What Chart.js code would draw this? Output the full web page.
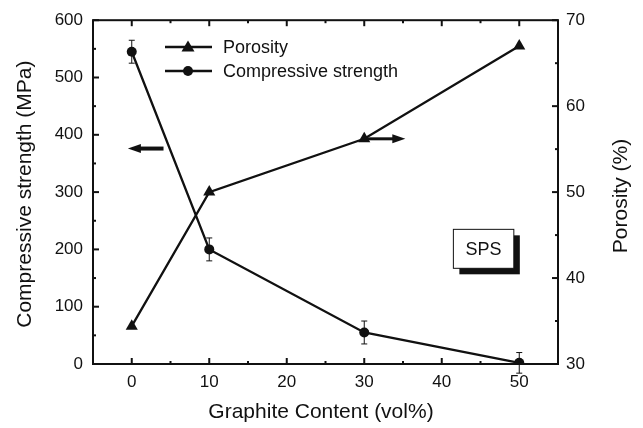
<!DOCTYPE html>
<html>
<head>
<meta charset="utf-8">
<script src="https://cdn.jsdelivr.net/npm/chart.js@4"></script>
<style>
  html, body { margin: 0; padding: 0; background: #fff; }
  #wrap { width: 643px; height: 428px; }
</style>
</head>
<body>
<div id="wrap"><canvas id="chart" width="643" height="428"></canvas></div>
<script>
// values
const graphite = [0, 10, 30, 50];
const porosity = [34.4, 50.0, 56.2, 67.0];
const strength = [545, 200, 55, 2];
const strengthErr = [20, 20, 20, 18];

const xTicks = [0, 10, 20, 30, 40, 50];
const leftTicks = [0, 100, 200, 300, 400, 500, 600];
const rightTicks = [30, 40, 50, 60, 70];

const FONT = '"Liberation Sans", Arial, sans-serif';
const INK = '#111';

function midpoints(arr) {
    const out = [];
    for (let i = 0; i < arr.length - 1; i++) out.push((arr[i] + arr[i + 1]) / 2);
    return out;
}

function arrow(ctx, x1, y, x2, w) {
    // shaft from x1 to x2, head at x2
    const dir = Math.sign(x2 - x1);
    ctx.lineWidth = w;
    ctx.beginPath();
    ctx.moveTo(x1, y);
    ctx.lineTo(x2 - dir * 8, y);
    ctx.stroke();
    ctx.beginPath();
    ctx.moveTo(x2, y);
    ctx.lineTo(x2 - dir * 13, y - 4.5);
    ctx.lineTo(x2 - dir * 13, y + 4.5);
    ctx.closePath();
    ctx.fill();
}

const decor = {
    id: 'decor',
    afterDatasetsDraw(chart) {
        const ctx = chart.ctx;
        const xs = chart.scales.x, yl = chart.scales.yL;
        ctx.save();
        ctx.strokeStyle = INK;
        ctx.lineWidth = 1;
        graphite.forEach((g, i) => {
            const px = xs.getPixelForValue(g);
            const top = yl.getPixelForValue(strength[i] + strengthErr[i]);
            const bot = yl.getPixelForValue(strength[i] - strengthErr[i]);
            ctx.beginPath();
            ctx.moveTo(px, top); ctx.lineTo(px, bot);
            ctx.moveTo(px - 3, top); ctx.lineTo(px + 3, top);
            ctx.moveTo(px - 3, bot); ctx.lineTo(px + 3, bot);
            ctx.stroke();
        });
        ctx.restore();
    },
    afterDraw(chart) {
        const ctx = chart.ctx;
        const a = chart.chartArea;
        const xs = chart.scales.x, yl = chart.scales.yL, yr = chart.scales.yR;
        ctx.save();
        ctx.strokeStyle = INK;
        ctx.fillStyle = INK;

        // frame
        ctx.lineWidth = 2;
        ctx.strokeRect(a.left, a.top, a.right - a.left, a.bottom - a.top);

        // inward ticks
        ctx.lineWidth = 2;
        const tick = (x1, y1, x2, y2) => { ctx.beginPath(); ctx.moveTo(x1, y1); ctx.lineTo(x2, y2); ctx.stroke(); };
        xTicks.forEach(v => {
            const p = xs.getPixelForValue(v);
            tick(p, a.bottom, p, a.bottom - 6);
            tick(p, a.top, p, a.top + 6);
        });
        midpoints([-10].concat(xTicks, [60])).forEach(v => {
            if (v <= xs.min || v >= xs.max) return;
            const p = xs.getPixelForValue(v);
            tick(p, a.bottom, p, a.bottom - 3);
            tick(p, a.top, p, a.top + 3);
        });
        leftTicks.forEach(v => { const p = yl.getPixelForValue(v); tick(a.left, p, a.left + 6, p); });
        midpoints(leftTicks).forEach(v => { const p = yl.getPixelForValue(v); tick(a.left, p, a.left + 3, p); });
        rightTicks.forEach(v => { const p = yr.getPixelForValue(v); tick(a.right, p, a.right - 6, p); });
        midpoints(rightTicks).forEach(v => { const p = yr.getPixelForValue(v); tick(a.right, p, a.right - 3, p); });

        // direction arrows
        arrow(ctx, xs.getPixelForValue(4.1), yl.getPixelForValue(376), xs.getPixelForValue(-0.5), 4);
        arrow(ctx, xs.getPixelForValue(30.3), yr.getPixelForValue(56.2), xs.getPixelForValue(35.3), 3);

        // SPS box with shadow
        const bx1 = xs.getPixelForValue(41.5), bx2 = xs.getPixelForValue(49.3);
        const by1 = yl.getPixelForValue(235), by2 = yl.getPixelForValue(167);
        ctx.fillStyle = INK;
        ctx.fillRect(bx1 + 6, by1 + 6, bx2 - bx1, by2 - by1);
        ctx.fillStyle = '#fff';
        ctx.fillRect(bx1, by1, bx2 - bx1, by2 - by1);
        ctx.lineWidth = 1;
        ctx.strokeRect(bx1, by1, bx2 - bx1, by2 - by1);
        ctx.fillStyle = INK;
        ctx.font = '18px ' + FONT;
        ctx.textAlign = 'center';
        ctx.textBaseline = 'middle';
        ctx.fillText('SPS', (bx1 + bx2) / 2, (by1 + by2) / 2 + 1);

        // legend
        const legend = [
            { label: 'Porosity', style: 'triangle', y: 47 },
            { label: 'Compressive strength', style: 'circle', y: 71 }
        ];
        ctx.font = '18px ' + FONT;
        ctx.textAlign = 'left';
        legend.forEach(item => {
            ctx.lineWidth = 2.5;
            tick(165, item.y, 212, item.y);
            ctx.beginPath();
            if (item.style === 'circle') {
                ctx.arc(188, item.y, 5, 0, Math.PI * 2);
            } else {
                ctx.moveTo(188, item.y - 6.5);
                ctx.lineTo(194.5, item.y + 4.5);
                ctx.lineTo(181.5, item.y + 4.5);
                ctx.closePath();
            }
            ctx.fill();
            ctx.fillText(item.label, 223, item.y + 1);
        });

        // axis titles
        ctx.font = '21px ' + FONT;
        ctx.textAlign = 'center';
        ctx.fillText('Graphite Content (vol%)', 321, 412);
        ctx.save();
        ctx.translate(25, (a.top + a.bottom) / 2 + 2);
        ctx.rotate(-Math.PI / 2);
        ctx.fillText('Compressive strength (MPa)', 0, 0);
        ctx.restore();
        ctx.save();
        ctx.translate(621, 196);
        ctx.rotate(-Math.PI / 2);
        ctx.fillText('Porosity (%)', 0, 0);
        ctx.restore();

        ctx.restore();
    }
};

new Chart(document.getElementById('chart'), {
    type: 'scatter',
    data: {
        datasets: [
            {
                label: 'Porosity',
                data: graphite.map((g, i) => ({ x: g, y: porosity[i] })),
                yAxisID: 'yR',
                showLine: true,
                borderColor: INK,
                backgroundColor: INK,
                borderWidth: 2.3,
                pointStyle: 'triangle',
                pointRadius: 7,
                pointBorderWidth: 0
            },
            {
                label: 'Compressive strength',
                data: graphite.map((g, i) => ({ x: g, y: strength[i] })),
                yAxisID: 'yL',
                showLine: true,
                borderColor: INK,
                backgroundColor: INK,
                borderWidth: 2.3,
                pointStyle: 'circle',
                pointRadius: 5,
                pointBorderWidth: 0
            }
        ]
    },
    options: {
        responsive: false,
        animation: false,
        events: [],
        layout: { padding: { top: 19, left: 0, right: 0, bottom: 0 } },
        plugins: {
            legend: { display: false },
            tooltip: { enabled: false }
        },
        scales: {
            x: {
                type: 'linear',
                min: -5,
                max: 55,
                afterBuildTicks: s => { s.ticks = xTicks.map(v => ({ value: v })); },
                afterFit: s => { s.height = 64; },
                grid: { display: false, drawTicks: false },
                border: { display: false },
                ticks: { color: INK, font: { family: FONT, size: 17 }, padding: 8 }
            },
            yL: {
                type: 'linear',
                position: 'left',
                min: 0,
                max: 600,
                afterBuildTicks: s => { s.ticks = leftTicks.map(v => ({ value: v })); },
                afterFit: s => { s.width = 93; },
                grid: { display: false, drawTicks: false },
                border: { display: false },
                ticks: { color: INK, font: { family: FONT, size: 17 }, padding: 10 }
            },
            yR: {
                type: 'linear',
                position: 'right',
                min: 30,
                max: 70,
                afterBuildTicks: s => { s.ticks = rightTicks.map(v => ({ value: v })); },
                afterFit: s => { s.width = 85; },
                grid: { display: false, drawTicks: false },
                border: { display: false },
                ticks: { color: INK, font: { family: FONT, size: 17 }, padding: 8 }
            }
        }
    },
    plugins: [decor]
});
</script>
</body>
</html>
